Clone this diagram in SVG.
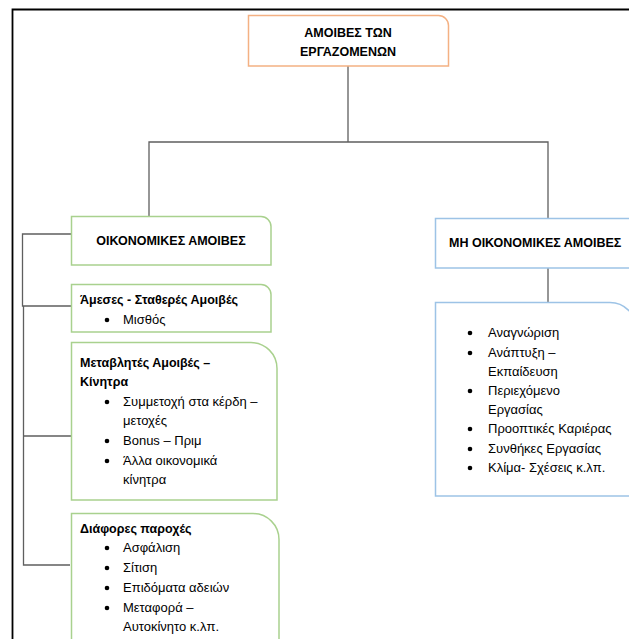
<svg xmlns="http://www.w3.org/2000/svg" width="629" height="639" viewBox="0 0 629 639">
<style>
text{font-family:"Liberation Sans",Arial,sans-serif;font-size:13px;fill:#000}
.b{font-weight:bold;font-size:12.5px}
.t{font-weight:bold;font-size:12.5px;text-anchor:middle}
.g{fill:#fff;stroke:#A9D18E;stroke-width:1.5}
.o{fill:#fff;stroke:#F4B183;stroke-width:1.5}
.bl{fill:#fff;stroke:#9DC3E6;stroke-width:1.5}
.c{fill:none;stroke:#5f5f5f;stroke-width:1.3}
.d{fill:#000}
</style>
<rect width="629" height="639" fill="#fff"/>
<path d="M12.5,639 V9.5 H629" fill="none" stroke="#000" stroke-width="1.8"/>
<g id="connectors">
<path class="c" d="M348,66 V142 M149,216 V142 H548 V218 M548,268 V302"/>
<path class="c" d="M71,234 H22.5 V306 H72 M23.5,306 V565 H70 M23.5,436 H72"/>
</g>
<g id="root">
<path class="o" d="M248.5,15.5 H438.5 A10,10 0 0 1 448.5,25.5 V66 H248.5 Z"/>
<text class="t" x="348" y="37">ΑΜΟΙΒΕΣ ΤΩΝ</text>
<text class="t" x="348" y="56">ΕΡΓΑΖΟΜΕΝΩΝ</text>
</g>
<g id="economic">
<path class="g" d="M71.5,216.5 H261 A10,10 0 0 1 271,226.5 V265 H71.5 Z"/>
<text class="t" x="171" y="245">ΟΙΚΟΝΟΜΙΚΕΣ ΑΜΟΙΒΕΣ</text>
</g>
<g id="fixed">
<path class="g" d="M71.5,284.5 H261 A10,10 0 0 1 271,294.5 V332 H71.5 Z"/>
<text class="b" x="80" y="304">Άμεσες - Σταθερές Αμοιβές</text>
<circle class="d" cx="107" cy="320" r="2.3"/><text x="123" y="324">Μισθός</text>
</g>
<g id="variable">
<path class="g" d="M71.5,342.5 H251 A26,26 0 0 1 277,368.5 V500 H71.5 Z"/>
<text class="b" x="80" y="367">Μεταβλητές Αμοιβές –</text>
<text class="b" x="80" y="386">Κίνητρα</text>
<circle class="d" cx="107" cy="402" r="2.3"/><text x="123" y="406">Συμμετοχή στα κέρδη –</text>
<text x="123" y="425">μετοχές</text>
<circle class="d" cx="107" cy="441" r="2.3"/><text x="123" y="445">Bonus – Πριμ</text>
<circle class="d" cx="107" cy="461" r="2.3"/><text x="123" y="465">Άλλα οικονομικά</text>
<text x="123" y="484">κίνητρα</text>
</g>
<g id="benefits">
<path class="g" d="M71.5,513.5 H253 A26,26 0 0 1 279,539.5 V645 H71.5 Z"/>
<text class="b" x="80" y="533">Διάφορες παροχές</text>
<circle class="d" cx="107" cy="548" r="2.3"/><text x="123" y="552">Ασφάλιση</text>
<circle class="d" cx="107" cy="568" r="2.3"/><text x="123" y="572">Σίτιση</text>
<circle class="d" cx="107" cy="588" r="2.3"/><text x="123" y="592">Επιδόματα αδειών</text>
<circle class="d" cx="107" cy="608" r="2.3"/><text x="123" y="612">Μεταφορά –</text>
<text x="123" y="631">Αυτοκίνητο κ.λπ.</text>
</g>
<g id="noneconomic">
<rect class="bl" x="435.5" y="218.5" width="200" height="49.5"/>
<text class="b" x="449" y="247">ΜΗ ΟΙΚΟΝΟΜΙΚΕΣ ΑΜΟΙΒΕΣ</text>
</g>
<g id="noneconomic-list">
<path class="bl" d="M435.5,302.5 H610 A26,26 0 0 1 636,328.5 V496 H435.5 Z"/>
<circle class="d" cx="470" cy="333" r="2.3"/><text x="488" y="337">Αναγνώριση</text>
<circle class="d" cx="470" cy="353" r="2.3"/><text x="488" y="357">Ανάπτυξη –</text>
<text x="488" y="376">Εκπαίδευση</text>
<circle class="d" cx="470" cy="391" r="2.3"/><text x="488" y="395">Περιεχόμενο</text>
<text x="488" y="414">Εργασίας</text>
<circle class="d" cx="470" cy="429" r="2.3"/><text x="488" y="433">Προοπτικές Καριέρας</text>
<circle class="d" cx="470" cy="449" r="2.3"/><text x="488" y="453">Συνθήκες Εργασίας</text>
<circle class="d" cx="470" cy="468" r="2.3"/><text x="488" y="472">Κλίμα- Σχέσεις κ.λπ.</text>
</g>
</svg>
